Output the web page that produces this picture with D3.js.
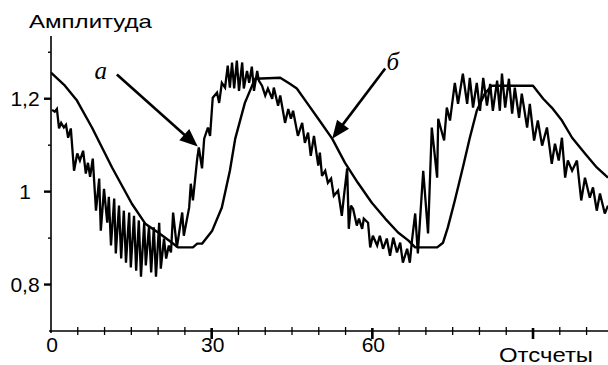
<!DOCTYPE html>
<html>
<head>
<meta charset="utf-8">
<script src="https://cdn.jsdelivr.net/npm/d3@7"></script>
<style>
  body { margin: 0; background: #fff; }
  text { fill: #000; }
</style>
</head>
<body>
<svg id="chart" width="608" height="365"></svg>
<script>
// Кривая "б" (сглаженная)
var bX = [0, 2.6, 4.85, 7.65, 11.4, 15.1, 17.6, 20.0, 22.6, 23.7, 26.5, 27.3, 28.2, 30.1, 31.9, 33.4, 34.4, 36.2, 38.1,
  42.8, 44.6, 45.9, 47.8, 49.9, 52.5, 54.9, 57.3, 59.9, 62.4, 64.8, 66.7, 68.0, 72.1, 73.2, 74.1, 75.4, 76.9, 78.2,
  79.5, 81.0, 82.3, 90.0, 91.9, 93.5, 95.4, 97.3, 99.7, 101.9, 104.0];
var bY = [1.256, 1.228, 1.196, 1.138, 1.052, 0.974, 0.931, 0.912, 0.890, 0.880, 0.880, 0.888, 0.888, 0.916, 0.966,
  1.045, 1.114, 1.191, 1.243, 1.245, 1.232, 1.222, 1.191, 1.157, 1.114, 1.062, 1.019, 0.976, 0.942, 0.912, 0.895,
  0.880, 0.880, 0.890, 0.923, 0.981, 1.052, 1.116, 1.174, 1.211, 1.228, 1.228, 1.200, 1.181, 1.153, 1.116, 1.082,
  1.052, 1.030];

// Кривая "а" (с шумом)
var aX = [0.2, 0.7, 1.1, 1.5, 1.9, 2.4, 2.8, 3.2, 3.7, 4.3, 4.9, 5.4, 6.0, 6.5, 6.9, 7.3, 7.8, 8.4, 9.0, 9.3,
  9.9, 10.5, 10.8, 11.2, 11.8, 12.1, 12.7, 13.1, 13.6, 14.0, 14.6, 14.9, 15.5, 15.9, 16.4, 16.8, 17.4, 17.7, 18.3, 18.7,
  19.2, 19.6, 20.2, 20.5, 21.1, 21.5, 22.0, 22.4, 22.8, 23.5, 24.5, 24.8, 25.8, 26.1, 26.5, 27.3, 27.6, 28.2, 28.6, 29.3,
  29.7, 30.2, 31.0, 31.4, 31.9, 32.5, 33.0, 33.4, 33.8, 34.2, 34.7, 35.1, 35.7, 36.0, 36.6, 37.0, 37.5, 37.9, 38.5, 38.8,
  39.4, 40.0, 40.5, 41.3, 41.6, 42.4, 42.8, 43.7, 44.3, 44.8, 45.2, 46.1, 46.9, 47.4, 48.0, 48.5, 49.1, 49.9, 50.2, 50.6,
  51.2, 51.7, 52.3, 52.8, 53.6, 54.3, 54.7, 55.3, 55.6, 56.0, 56.4, 57.1, 57.5, 58.1, 58.4, 59.2, 59.6, 60.1, 60.9, 61.4,
  62.0, 62.7, 63.3, 63.9, 64.6, 65.2, 65.7, 66.5, 67.0, 67.4, 68.0, 68.5, 69.5, 70.4, 71.1, 72.1, 72.3, 73.4, 73.9, 74.5,
  75.4, 76.0, 76.9, 77.7, 78.2, 78.8, 79.5, 80.1, 80.7, 81.4, 82.0, 82.5, 83.3, 83.8, 84.2, 84.8, 85.5, 86.1, 86.6, 87.4,
  87.9, 88.9, 89.4, 90.2, 90.9, 91.7, 92.6, 93.5, 94.1, 94.8, 95.4, 96.0, 96.5, 97.3, 98.2, 99.0, 99.7, 100.6, 101.2, 101.9,
  102.5, 103.4, 104.0];
var aY = [1.176, 1.172, 1.178, 1.136, 1.148, 1.138, 1.144, 1.116, 1.136, 1.045, 1.082, 1.067, 1.088, 1.039, 1.062, 1.032,
  1.071, 0.959, 1.028, 0.916, 1.006, 0.933, 0.989, 0.884, 0.985, 0.867, 0.970, 0.856, 0.959, 0.847, 0.955, 0.837, 0.948,
  0.830, 0.938, 0.817, 0.933, 0.841, 0.925, 0.826, 0.923, 0.817, 0.933, 0.834, 0.899, 0.856, 0.884, 0.869, 0.955, 0.880,
  0.955, 0.905, 0.966, 1.017, 0.981, 1.071, 1.095, 1.050, 1.114, 1.138, 1.120, 1.202, 1.213, 1.191, 1.234, 1.224, 1.271,
  1.224, 1.278, 1.222, 1.282, 1.217, 1.278, 1.222, 1.260, 1.234, 1.269, 1.217, 1.260, 1.239, 1.228, 1.207, 1.222, 1.200,
  1.224, 1.185, 1.207, 1.148, 1.178, 1.157, 1.174, 1.120, 1.148, 1.105, 1.127, 1.077, 1.120, 1.056, 1.084, 1.034, 1.045,
  1.019, 1.028, 0.991, 1.002, 0.948, 0.991, 1.050, 0.920, 0.970, 0.963, 0.927, 0.942, 0.920, 0.942, 0.933, 0.880, 0.905,
  0.884, 0.905, 0.877, 0.899, 0.862, 0.901, 0.869, 0.890, 0.847, 0.877, 0.847, 0.895, 0.953, 0.867, 1.045, 0.910, 1.138,
  1.030, 1.157, 1.110, 1.181, 1.153, 1.234, 1.189, 1.254, 1.189, 1.245, 1.181, 1.234, 1.174, 1.245, 1.185, 1.232, 1.174,
  1.239, 1.174, 1.254, 1.181, 1.243, 1.168, 1.224, 1.159, 1.211, 1.138, 1.189, 1.110, 1.153, 1.099, 1.138, 1.060, 1.103,
  1.067, 1.116, 1.030, 1.067, 1.045, 1.067, 0.981, 1.030, 0.987, 1.009, 0.959, 0.996, 0.953, 0.970];

// Деления осей
var yMajor = [0.8, 1, 1.2];
var yMinor = [0.9, 1.1, 1.3];
var xMajor = [0, 30, 60, 90];
var xLabels = ["0", "30", "60", ""];
var xMinor = [5, 10, 15, 20, 25, 35, 40, 45, 50, 55, 65, 70, 75, 80, 85, 95, 100];

// Стрелки с подписями (в единицах данных)
var arrowNames = ["а", "б"];
var arrowFromX = [12.3, 62.4];
var arrowFromY = [1.252, 1.265];
var arrowToX = [27.4, 52.5];
var arrowToY = [1.097, 1.114];
var labelX = [9.3, 63.8];
var labelY = [1.243, 1.262];

var sans = "'Liberation Sans', Arial, sans-serif";
var serif = "'Liberation Serif', 'Times New Roman', serif";

var svg = d3.select("#chart");

var x = d3.scaleLinear().domain([0, 104]).range([51, 608]);
var y = d3.scaleLinear().domain([0.7, 1.335]).range([331, 36]);

var fmt = function(d) { return String(d).replace(".", ","); };

// Оси
var axes = svg.append("g").attr("stroke", "#000").attr("fill", "none");
axes.append("line")
  .attr("x1", x(0)).attr("x2", x(0))
  .attr("y1", y(0.7) + 2).attr("y2", y(1.335))
  .attr("stroke-width", 1.6);
axes.append("line")
  .attr("x1", x(0) - 2).attr("x2", 608)
  .attr("y1", y(0.7)).attr("y2", y(0.7))
  .attr("stroke-width", 1.6);

axes.selectAll("line.ymaj")
  .data(yMajor).enter().append("line")
  .attr("class", "ymaj")
  .attr("x1", x(0) - 7).attr("x2", x(0))
  .attr("y1", d => y(d)).attr("y2", d => y(d))
  .attr("stroke-width", 2.4);

axes.selectAll("line.ymin")
  .data(yMinor).enter().append("line")
  .attr("class", "ymin")
  .attr("x1", x(0) - 3).attr("x2", x(0))
  .attr("y1", d => y(d)).attr("y2", d => y(d))
  .attr("stroke-width", 1.4);

axes.selectAll("line.xmaj")
  .data(xMajor.slice(1)).enter().append("line")
  .attr("class", "xmaj")
  .attr("x1", d => x(d)).attr("x2", d => x(d))
  .attr("y1", y(0.7) - 3).attr("y2", y(0.7) + 8)
  .attr("stroke-width", 2.6);

axes.selectAll("line.xmin")
  .data(xMinor).enter().append("line")
  .attr("class", "xmin")
  .attr("x1", d => x(d)).attr("x2", d => x(d))
  .attr("y1", y(0.7) - 4).attr("y2", y(0.7) + 4)
  .attr("stroke-width", 1.3);

// Подписи делений
svg.selectAll("text.ylab")
  .data(yMajor).enter().append("text")
  .attr("class", "ylab")
  .attr("x", 25)
  .attr("y", d => y(d) + 7.5)
  .attr("text-anchor", "middle")
  .style("font-family", sans)
  .style("font-size", "21px")
  .text(fmt);

svg.selectAll("text.xlab")
  .data(xMajor).enter().append("text")
  .attr("class", "xlab")
  .attr("x", d => x(d) + 1)
  .attr("y", 352)
  .attr("text-anchor", "middle")
  .style("font-family", sans)
  .style("font-size", "21px")
  .text((d, i) => xLabels[i]);

svg.append("text")
  .attr("x", 29).attr("y", 28)
  .style("font-family", sans)
  .style("font-size", "18.5px")
  .attr("textLength", 123).attr("lengthAdjust", "spacingAndGlyphs")
  .text("Амплитуда");

svg.append("text")
  .attr("x", 499).attr("y", 362)
  .style("font-family", sans)
  .style("font-size", "21px")
  .attr("textLength", 94).attr("lengthAdjust", "spacingAndGlyphs")
  .text("Отсчеты");

// Кривые
var line = d3.line()
  .x(d => x(d[0]))
  .y(d => y(d[1]));

svg.append("defs").append("clipPath").attr("id", "clip")
  .append("rect").attr("x", 51).attr("y", 0).attr("width", 557).attr("height", 331);

var plot = svg.append("g").attr("clip-path", "url(#clip)");

plot.append("path")
  .datum(bX.map((v, i) => [v, bY[i]]))
  .attr("d", line)
  .attr("fill", "none")
  .attr("stroke", "#000")
  .attr("stroke-width", 2.4)
  .attr("stroke-linejoin", "round");

plot.append("path")
  .datum(aX.map((v, i) => [v, aY[i]]))
  .attr("d", line)
  .attr("fill", "none")
  .attr("stroke", "#000")
  .attr("stroke-width", 2.3)
  .attr("stroke-linejoin", "miter")
  .attr("stroke-miterlimit", 3);

// Стрелки
arrowNames.forEach(function(name, i) {
  var x1 = x(arrowFromX[i]), y1 = y(arrowFromY[i]);
  var x2 = x(arrowToX[i]), y2 = y(arrowToY[i]);
  var dx = x2 - x1, dy = y2 - y1;
  var len = Math.sqrt(dx * dx + dy * dy);
  var ux = dx / len, uy = dy / len;
  var headL = 18, headW = 7.5;
  var bx = x2 - ux * headL, by = y2 - uy * headL;

  svg.append("line")
    .attr("x1", x1).attr("y1", y1)
    .attr("x2", bx + ux * 2).attr("y2", by + uy * 2)
    .attr("stroke", "#000")
    .attr("stroke-width", 2.6);

  svg.append("path")
    .attr("d", "M" + x2 + "," + y2 +
      "L" + (bx - uy * headW) + "," + (by + ux * headW) +
      "L" + (bx + uy * headW) + "," + (by - ux * headW) + "Z")
    .attr("fill", "#000");

  svg.append("text")
    .attr("x", x(labelX[i]))
    .attr("y", y(labelY[i]))
    .attr("text-anchor", "middle")
    .style("font-family", serif)
    .style("font-style", "italic")
    .style("font-size", "25px")
    .text(name);
});
</script>
</body>
</html>
